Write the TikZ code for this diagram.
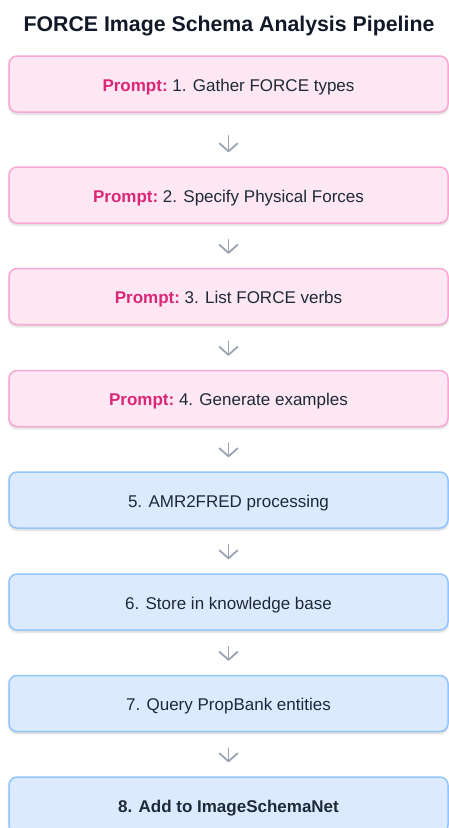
\documentclass[tikz,border=0pt]{standalone}
\usepackage{fontspec}
\setmainfont{Liberation Sans}
\usetikzlibrary{arrows.meta,shadows.blur}
\definecolor{pinkfill}{HTML}{FCE7F3}
\definecolor{pinkborder}{HTML}{F9A8D4}
\definecolor{promptcol}{HTML}{DB2777}
\definecolor{bluefill}{HTML}{DBEAFE}
\definecolor{blueborder}{HTML}{93C5FD}
\definecolor{txtcol}{HTML}{1F2937}
\definecolor{titlecol}{HTML}{111827}
\definecolor{arrowgray}{HTML}{9AA3B2}
\begin{document}
\begin{tikzpicture}[x=1pt,y=1pt,
  box/.style={rounded corners=8pt, line width=1.5pt, minimum width=439pt,
    minimum height=56pt, inner sep=0pt, text height=14pt, text depth=0pt,
    font=\fontsize{17}{20}\selectfont, text=txtcol,
    blur shadow={shadow xshift=0pt, shadow yshift=-2pt, shadow blur steps=6, shadow opacity=18}},
  pinkbox/.style={box, draw=pinkborder, fill=pinkfill},
  bluebox/.style={box, draw=blueborder, fill=bluefill},
  arr/.style={draw=arrowgray, line width=1.8pt, line cap=round, shorten >=14pt,
    -{Straight Barb[length=8pt, width=18pt, round]}}]
\useasboundingbox (0,0) rectangle (449,-828);
\clip (0,0) rectangle (449,-828);
\node[font=\bfseries\fontsize{21.3}{25}\selectfont, text=titlecol, anchor=base] (title) at (229,-31) {FORCE Image Schema Analysis Pipeline};
\node[pinkbox] (b1) at (228.5,-84) {\textcolor{promptcol}{\bfseries Prompt:}\ 1. Gather FORCE types};
\node[pinkbox] (b2) at (228.5,-195) {\textcolor{promptcol}{\bfseries Prompt:}\ 2. Specify Physical Forces};
\node[pinkbox] (b3) at (228.5,-296.5) {\textcolor{promptcol}{\bfseries Prompt:}\ 3. List FORCE verbs};
\node[pinkbox] (b4) at (228.5,-398.5) {\textcolor{promptcol}{\bfseries Prompt:}\ 4. Generate examples};
\node[bluebox] (b5) at (228.5,-500) {5. AMR2FRED processing};
\node[bluebox] (b6) at (228.5,-602) {6. Store in knowledge base};
\node[bluebox] (b7) at (228.5,-703.5) {7. Query PropBank entities};
\node[bluebox, font=\bfseries\fontsize{17}{20}\selectfont] (b8) at (228.5,-805) {8. Add to ImageSchemaNet};
\draw[arr, shorten <=23pt] (b1) -- (b2);
\draw[arr, shorten <=16pt] (b2) -- (b3);
\draw[arr, shorten <=16pt] (b3) -- (b4);
\draw[arr, shorten <=16pt] (b4) -- (b5);
\draw[arr, shorten <=16pt] (b5) -- (b6);
\draw[arr, shorten <=16pt] (b6) -- (b7);
\draw[arr, shorten <=16pt] (b7) -- (b8);
\end{tikzpicture}
\end{document}
